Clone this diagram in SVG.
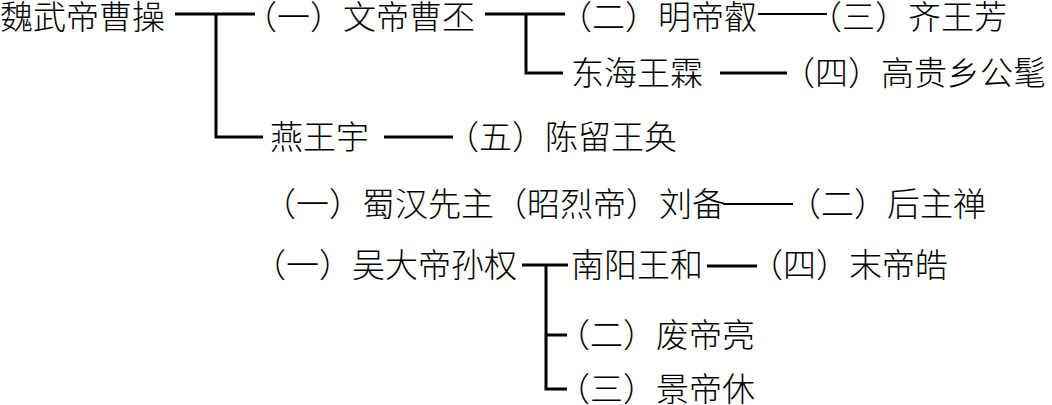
<svg xmlns="http://www.w3.org/2000/svg" width="1052" height="405" viewBox="0 0 1052 405">
<style>
.t{font-family:"Noto Sans CJK SC","Noto Sans CJK TC",sans-serif;font-size:33px;font-weight:300;fill:#000}
.c{fill:none;stroke:#000;stroke-width:3;stroke-linecap:butt;stroke-linejoin:miter}
.c2{fill:none;stroke:#000;stroke-width:2}
</style>
<rect width="1052" height="405" fill="#fff"/>
<g id="connectors">
<path class="c" d="M175,14 H255"/>
<path class="c" d="M216,14 V137 H263"/>
<path class="c" d="M384,137 H453"/>
<path class="c" d="M485,14 H565"/>
<path class="c" d="M526,14 V73 H563"/>
<path class="c2" d="M758,14 H827"/>
<path class="c" d="M720,73 H787"/>
<path class="c2" d="M723,204 H793"/>
<path class="c" d="M522,265 H568"/>
<path class="c" d="M546,265 V389 H567"/>
<path class="c" d="M546,335 H567"/>
<path class="c" d="M707,266 H757"/>
</g>
<g id="n-caocao"><text class="t" x="0" y="29">魏武帝曹操</text></g>
<g id="n-caopi"><text class="t" x="244" y="29">（一）文帝曹丕</text></g>
<g id="n-caorui"><text class="t" x="559" y="29">（二）明帝叡</text></g>
<g id="n-caofang"><text class="t" x="809" y="29">（三）齐王芳</text></g>
<g id="n-caolin"><text class="t" x="571" y="85">东海王霖</text></g>
<g id="n-caomao"><text class="t" x="782" y="85">（四）高贵乡公髦</text></g>
<g id="n-caoyu"><text class="t" x="270" y="149">燕王宇</text></g>
<g id="n-caohuan"><text class="t" x="446" y="149">（五）陈留王奂</text></g>
<g id="n-liubei"><text class="t" x="263" y="216">（一）蜀汉先主（昭烈帝）刘备</text></g>
<g id="n-liushan"><text class="t" x="788" y="216">（二）后主禅</text></g>
<g id="n-sunquan"><text class="t" x="253" y="277">（一）吴大帝孙权</text></g>
<g id="n-sunhe"><text class="t" x="571" y="277">南阳王和</text></g>
<g id="n-sunhao"><text class="t" x="750" y="277">（四）末帝皓</text></g>
<g id="n-sunliang"><text class="t" x="557" y="347">（二）废帝亮</text></g>
<g id="n-sunxiu"><text class="t" x="557" y="401">（三）景帝休</text></g>
</svg>
